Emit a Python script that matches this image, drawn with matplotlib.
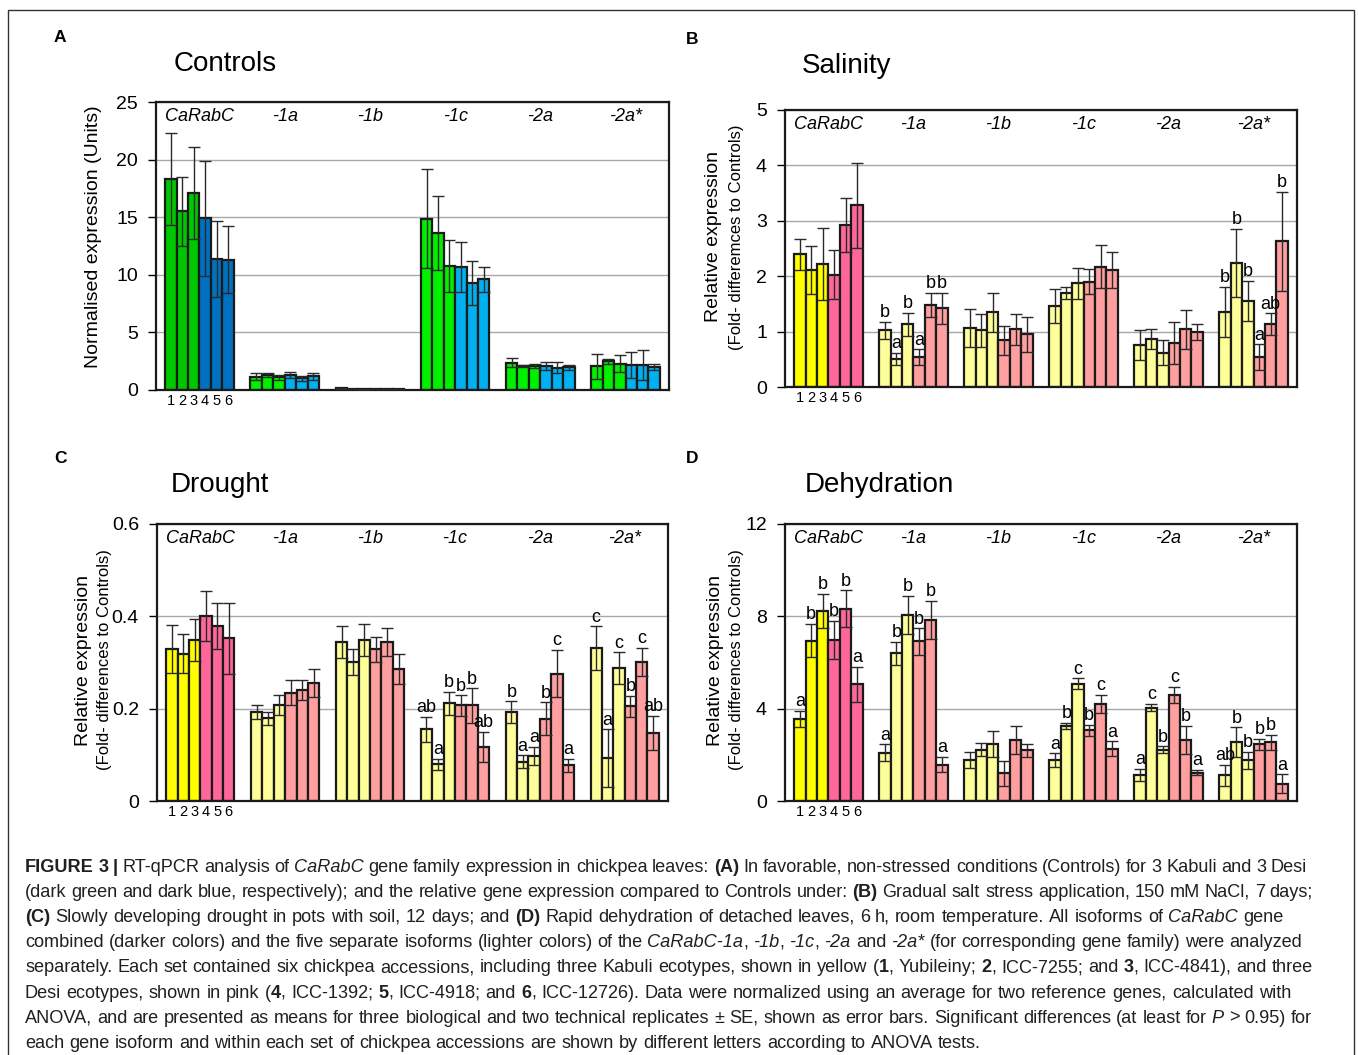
import matplotlib
matplotlib.use("Agg")
import matplotlib.pyplot as plt
from matplotlib import font_manager
from matplotlib.patches import Rectangle
import numpy as np

# ---------------- data ----------------
groups = ["CaRabC", "-1a", "-1b", "-1c", "-2a", "-2a*"]
accessions = ["1", "2", "3", "4", "5", "6"]

ctrl_vals = [[18.35, 15.5, 17.1, 14.9, 11.4, 11.3],
             [1.16, 1.3, 1.1, 1.3, 1.0, 1.2],
             [0.15, 0.1, 0.05, 0.08, 0.08, 0.08],
             [14.87, 13.6, 10.75, 10.67, 9.3, 9.6],
             [2.38, 2.1, 2.1, 2.1, 1.95, 1.97],
             [2.06, 2.5, 2.3, 2.17, 2.2, 2.0]]
ctrl_err = [[4.0, 3.0, 4.0, 5.0, 3.3, 2.9],
            [0.3, 0.2, 0.2, 0.3, 0.2, 0.3],
            [0.02, 0.02, 0.02, 0.02, 0.02, 0.02],
            [4.3, 3.2, 2.25, 2.15, 1.9, 1.1],
            [0.4, 0.1, 0.15, 0.35, 0.45, 0.2],
            [1.1, 0.2, 0.7, 1.15, 1.3, 0.26]]

sal_vals = [[2.40, 2.11, 2.22, 2.03, 2.93, 3.28],
            [1.02, 0.51, 1.13, 0.54, 1.48, 1.42],
            [1.07, 1.02, 1.35, 0.84, 1.04, 0.95],
            [1.46, 1.69, 1.87, 1.90, 2.17, 2.11],
            [0.75, 0.86, 0.62, 0.80, 1.04, 0.99],
            [1.36, 2.24, 1.55, 0.54, 1.13, 2.63]]
sal_err = [[0.28, 0.43, 0.65, 0.44, 0.49, 0.77],
           [0.16, 0.11, 0.21, 0.14, 0.22, 0.28],
           [0.34, 0.29, 0.35, 0.26, 0.28, 0.31],
           [0.30, 0.11, 0.28, 0.23, 0.39, 0.33],
           [0.27, 0.18, 0.22, 0.38, 0.35, 0.15],
           [0.45, 0.62, 0.36, 0.23, 0.20, 0.89]]
sal_letters = [["", "", "", "", "", ""],
               ["b", "a", "b", "a", "b", "b"],
               ["", "", "", "", "", ""],
               ["", "", "", "", "", ""],
               ["", "", "", "", "", ""],
               ["b", "b", "b", "a", "ab", "b"]]

dro_vals = [[0.330, 0.319, 0.349, 0.400, 0.379, 0.352],
            [0.193, 0.179, 0.208, 0.235, 0.240, 0.256],
            [0.344, 0.301, 0.349, 0.329, 0.344, 0.286],
            [0.155, 0.080, 0.212, 0.207, 0.207, 0.117],
            [0.193, 0.085, 0.098, 0.178, 0.276, 0.077],
            [0.331, 0.093, 0.288, 0.205, 0.301, 0.148]]
dro_err = [[0.052, 0.042, 0.046, 0.054, 0.050, 0.077],
           [0.016, 0.014, 0.022, 0.028, 0.022, 0.030],
           [0.035, 0.028, 0.035, 0.027, 0.031, 0.033],
           [0.028, 0.012, 0.025, 0.022, 0.037, 0.033],
           [0.023, 0.014, 0.020, 0.036, 0.051, 0.014],
           [0.047, 0.062, 0.034, 0.023, 0.031, 0.037]]
dro_letters = [["", "", "", "", "", ""],
               ["", "", "", "", "", ""],
               ["", "", "", "", "", ""],
               ["ab", "a", "b", "b", "b", "ab"],
               ["b", "a", "a", "b", "c", "a"],
               ["c", "a", "c", "b", "c", "ab"]]

deh_vals = [[3.56, 6.95, 8.24, 6.98, 8.33, 5.05],
            [2.10, 6.39, 8.06, 6.91, 7.84, 1.57],
            [1.77, 2.22, 2.48, 1.20, 2.66, 2.19],
            [1.77, 3.25, 5.09, 3.06, 4.21, 2.26],
            [1.12, 4.05, 2.22, 4.59, 2.66, 1.23],
            [1.12, 2.55, 1.76, 2.45, 2.55, 0.75]]
deh_err = [[0.36, 0.72, 0.73, 0.81, 0.79, 0.75],
           [0.35, 0.51, 0.84, 0.57, 0.84, 0.33],
           [0.35, 0.29, 0.57, 0.54, 0.61, 0.30],
           [0.30, 0.13, 0.23, 0.25, 0.39, 0.32],
           [0.26, 0.16, 0.15, 0.36, 0.61, 0.12],
           [0.46, 0.64, 0.36, 0.23, 0.32, 0.41]]
deh_letters = [["a", "b", "b", "b", "b", "a"],
               ["a", "b", "b", "b", "b", "a"],
               ["", "", "", "", "", ""],
               ["a", "b", "c", "b", "c", "a"],
               ["a", "c", "b", "c", "b", "a"],
               ["ab", "b", "b", "b", "b", "a"]]

# colours: (combined group first 3, combined last 3, isoform first 3, isoform last 3)
ctrl_colors = ["#00C800", "#0070C0", "#00F000", "#00B0F0"]
stress_colors = ["#FFFF00", "#FF6699", "#FFFF99", "#FF9F9F"]

# ---------------- fonts ----------------
def has_font(name):
    try:
        font_manager.findfont(font_manager.FontProperties(family=name), fallback_to_default=False)
        return True
    except Exception:
        return False

MAIN = "Liberation Sans" if has_font("Liberation Sans") else "DejaVu Sans"
NARROW = "Liberation Sans Narrow" if has_font("Liberation Sans Narrow") else MAIN
plt.rcParams["font.family"] = [MAIN, "DejaVu Sans"]

W, H = 1358, 1055
fig = plt.figure(figsize=(W / 100, H / 100), dpi=100)


def rect(x0, y0, x1, y1):
    return [x0 / W, 1 - y1 / H, (x1 - x0) / W, (y1 - y0) / H]


GSTEP = 7.45


def draw_panel(ax, vals, errs, letters, colors, ymax, yticks, yticklabels, label_y=0.948):
    nb = len(accessions)
    for g, name in enumerate(groups):
        xs = g * GSTEP + np.arange(nb)
        if g == 0:
            cols = [colors[0]] * 3 + [colors[1]] * 3
        else:
            cols = [colors[2]] * 3 + [colors[3]] * 3
        ax.bar(xs, vals[g], width=1.0, color=cols, edgecolor="#1a1a1a",
               linewidth=1.6, zorder=2)
        ax.errorbar(xs, vals[g], yerr=errs[g], fmt="none", ecolor="#2a2a2a",
                    elinewidth=1.0, capsize=4, capthick=1.0, zorder=3)
        ax.text(g * GSTEP + (nb - 1) / 2, ymax * label_y, name, ha="center", va="center",
                fontsize=13, style="italic", zorder=4)
        if letters is not None:
            for i in range(nb):
                if letters[g][i]:
                    ax.annotate(letters[g][i], (xs[i], vals[g][i] + errs[g][i]),
                                xytext=(0, 0.5), textcoords="offset points",
                                ha="center", va="bottom", fontsize=13, zorder=4)
    ax.set_xlim(-1.3, 5 * GSTEP + nb - 1 + 1.3)
    ax.set_ylim(0, ymax)
    ax.set_yticks(yticks)
    ax.set_yticklabels(yticklabels, fontsize=14)
    ax.set_xticks(np.arange(nb))
    ax.set_xticklabels(accessions, fontsize=10.5)
    ax.tick_params(axis="x", length=0, pad=3)
    ax.tick_params(axis="y", length=6, width=1.0, pad=7, direction="out")
    ax.yaxis.grid(True, color="#a8a8a8", linewidth=1.0, zorder=0)
    ax.set_axisbelow(True)
    for s in ax.spines.values():
        s.set_linewidth(1.6)
        s.set_color("#1a1a1a")


axA = fig.add_axes(rect(156, 102, 669, 390))
draw_panel(axA, ctrl_vals, ctrl_err, None, ctrl_colors, 25,
           [0, 5, 10, 15, 20, 25], ["0", "5", "10", "15", "20", "25"])
axB = fig.add_axes(rect(785, 110, 1297, 387))
draw_panel(axB, sal_vals, sal_err, sal_letters, stress_colors, 5,
           [0, 1, 2, 3, 4, 5], ["0", "1", "2", "3", "4", "5"])
axC = fig.add_axes(rect(157, 524, 668, 801))
draw_panel(axC, dro_vals, dro_err, dro_letters, stress_colors, 0.6,
           [0, 0.2, 0.4, 0.6], ["0", "0.2", "0.4", "0.6"])
axD = fig.add_axes(rect(785, 524, 1297, 801))
draw_panel(axD, deh_vals, deh_err, deh_letters, stress_colors, 12,
           [0, 4, 8, 12], ["0", "4", "8", "12"])


def ftext(x, y, s, **kw):
    return fig.text(x / W, 1 - y / H, s, **kw)


# panel letters and titles
for lab, x, y in [("A", 60, 37), ("B", 692, 39), ("C", 60, 459), ("D", 692, 459)]:
    ftext(x, y, lab, fontsize=12.5, fontweight="bold", ha="center", va="center")
for t, x, y in [("Controls", 225, 64), ("Salinity", 847, 66), ("Drought", 220, 485),
                ("Dehydration", 879, 485)]:
    ftext(x, y, t, fontsize=20, ha="center", va="center")

# y labels
ftext(93, 237, "Normalised expression (Units)", rotation=90, fontsize=14, ha="center", va="center")
ftext(713, 237, "Relative expression", rotation=90, fontsize=14, ha="center", va="center")
ftext(737, 237, "(Fold- differemces to Controls)", rotation=90, fontsize=12, ha="center", va="center")
ftext(83, 660, "Relative expression", rotation=90, fontsize=14, ha="center", va="center")
ftext(105, 660, "(Fold- differences to Controls)", rotation=90, fontsize=12, ha="center", va="center")
ftext(715, 660, "Relative expression", rotation=90, fontsize=14, ha="center", va="center")
ftext(737, 660, "(Fold- differences to Controls)", rotation=90, fontsize=12, ha="center", va="center")

# outer frame
fig.patches.append(Rectangle((8 / W, -0.01), (1354 - 8) / W, 1.01 - 10 / H,
                             transform=fig.transFigure, fill=False,
                             edgecolor="#333333", linewidth=1.0))

# ---------------- caption ----------------
caption = [
    [("FIGURE 3 |", "b"), (" RT-qPCR analysis of ", "n"), ("CaRabC", "i"),
     (" gene family expression in chickpea leaves: ", "n"), ("(A)", "b"),
     (" In favorable, non-stressed conditions (Controls) for 3 Kabuli and 3 Desi", "n")],
    [("(dark green and dark blue, respectively); and the relative gene expression compared to Controls under: ", "n"),
     ("(B)", "b"), (" Gradual salt stress application, 150 mM NaCl, 7 days;", "n")],
    [("(C)", "b"), (" Slowly developing drought in pots with soil, 12 days; and ", "n"), ("(D)", "b"),
     (" Rapid dehydration of detached leaves, 6 h, room temperature. All isoforms of ", "n"),
     ("CaRabC", "i"), (" gene", "n")],
    [("combined (darker colors) and the five separate isoforms (lighter colors) of the ", "n"),
     ("CaRabC-1a", "i"), (", ", "n"), ("-1b", "i"), (", ", "n"), ("-1c", "i"), (", ", "n"),
     ("-2a", "i"), (" and ", "n"), ("-2a*", "i"),
     (" (for corresponding gene family) were analyzed", "n")],
    [("separately. Each set contained six chickpea accessions, including three Kabuli ecotypes, shown in yellow (", "n"),
     ("1", "b"), (", Yubileiny; ", "n"), ("2", "b"), (", ICC-7255; and ", "n"), ("3", "b"),
     (", ICC-4841), and three", "n")],
    [("Desi ecotypes, shown in pink (", "n"), ("4", "b"), (", ICC-1392; ", "n"), ("5", "b"),
     (", ICC-4918; and ", "n"), ("6", "b"),
     (", ICC-12726). Data were normalized using an average for two reference genes, calculated with", "n")],
    [("ANOVA, and are presented as means for three biological and two technical replicates \u00b1 SE, shown as error bars. Significant differences (at least for ", "n"),
     ("P", "i"), (" > 0.95) for", "n")],
    [("each gene isoform and within each set of chickpea accessions are shown by different letters according to ANOVA tests.", "n")],
]
cap_right = [1307, 1313, 1283, 1302, 1313, 1291, 1312, 983]
justify = [True] * 7 + [False]
CAP_X0 = 25
CAP_Y0 = 871.5   # baseline of the first caption line
CAP_DY = 25.2

renderer = fig.canvas.get_renderer()
cap_fs = [13.5]


def style_kw(st):
    kw = dict(fontsize=cap_fs[0], family=[NARROW, "DejaVu Sans"], va="baseline", ha="left",
              color="#231f20")
    if st == "b":
        kw["fontweight"] = "bold"
    if st == "i":
        kw["style"] = "italic"
    return kw


def measure(s, st):
    t = fig.text(0, 0, s, **style_kw(st))
    w = t.get_window_extent(renderer).width
    t.remove()
    return w


def split_words(line):
    words = [[]]
    for txt, st in line:
        parts = txt.split(" ")
        for pi, p in enumerate(parts):
            if pi > 0:
                words.append([])
            if p:
                words[-1].append((p, st))
    return [w for w in words if w]


# scale the font so the last (unjustified) line ends where it does in the reference
last_nat = sum(measure(txt, st) for txt, st in caption[-1])
cap_fs[0] = cap_fs[0] * (cap_right[-1] - CAP_X0) / last_nat

space_w = measure("a a", "n") - measure("aa", "n")

for li, line in enumerate(caption):
    words = split_words(line)
    widths = [[measure(p, st) for p, st in w] for w in words]
    total = sum(sum(ws) for ws in widths)
    if justify[li] and len(words) > 1:
        gap = (cap_right[li] - CAP_X0 - total) / (len(words) - 1)
        gap = max(gap, 0.5 * space_w)
    else:
        gap = space_w
    y = CAP_Y0 + li * CAP_DY
    x = CAP_X0
    for w, ws in zip(words, widths):
        for (p, st), pw in zip(w, ws):
            ftext(x, y, p, **style_kw(st))
            x += pw
        x += gap

fig.savefig("out.png", dpi=100)
